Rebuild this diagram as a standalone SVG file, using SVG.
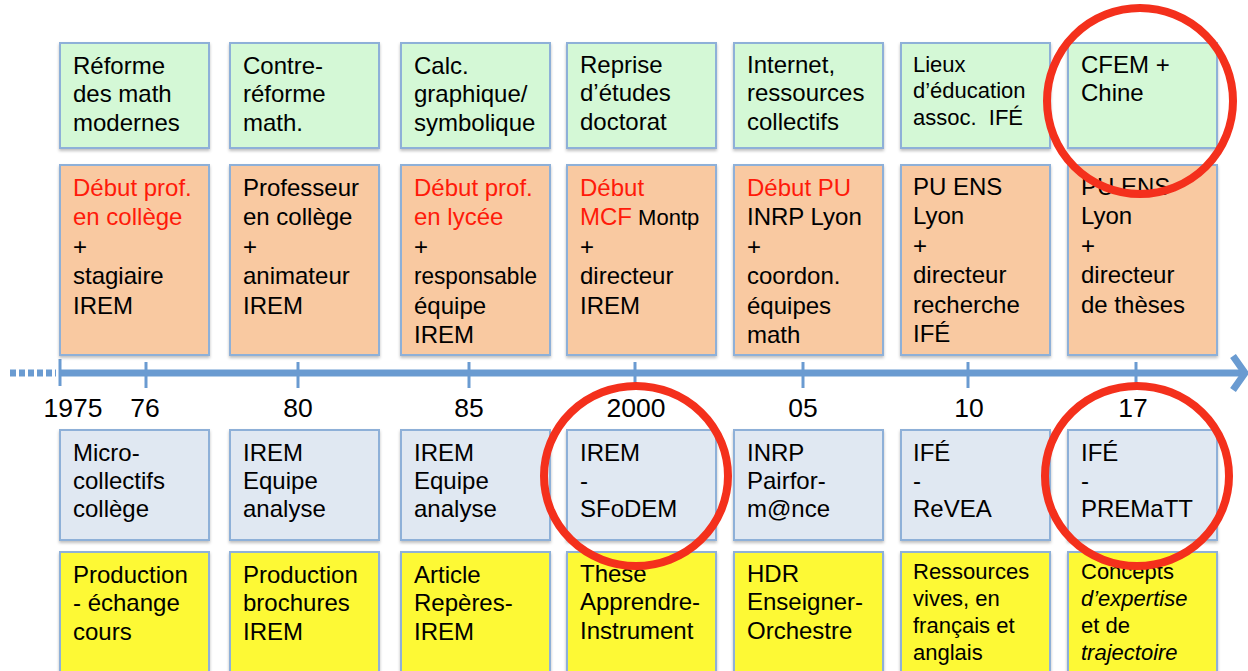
<svg xmlns="http://www.w3.org/2000/svg" width="1248" height="671" viewBox="0 0 1248 671">
<defs>
<filter id="sh" x="-10%" y="-10%" width="120%" height="120%">
<feDropShadow dx="0" dy="2" stdDeviation="1.5" flood-color="#000" flood-opacity="0.25"/>
</filter>
<style>
text{font-family:"Liberation Sans",Arial,Helvetica,sans-serif;font-size:24px;fill:#000}
.s{font-size:22px}
.m{font-size:22px}
.r{fill:#ff1a0a}
.i{font-style:italic}
.yr{font-size:26.5px;text-anchor:middle}
rect{stroke:#8eb0d8;stroke-width:2;filter:url(#sh)}
.g{fill:#d4f8d6}
.o{fill:#f9c9a1}
.b{fill:#e0e8f2}
.y{fill:#fdf934}
.ax{stroke:#6a9bd1;fill:none}
.c{fill:none;stroke:#f4301c;stroke-width:8}
</style>
</defs>
<rect width="1248" height="671" fill="#fff" style="stroke:none;filter:none"/>

<g id="connectors">
<line class="ax" x1="10" y1="373" x2="56" y2="373" stroke-width="7" stroke-dasharray="6 3"/>
<line class="ax" x1="60" y1="373" x2="1243" y2="373" stroke-width="7"/>
<polyline class="ax" points="1233,356 1245,373 1233,390" stroke-width="7" stroke-linejoin="miter"/>
<g class="ax" stroke-width="3">
<line x1="60" y1="359" x2="60" y2="386"/>
<line x1="146" y1="362" x2="146" y2="388"/>
<line x1="298" y1="362" x2="298" y2="388"/>
<line x1="469" y1="362" x2="469" y2="388"/>
<line x1="635" y1="362" x2="635" y2="388"/>
<line x1="803" y1="362" x2="803" y2="388"/>
<line x1="968" y1="362" x2="968" y2="388"/>
<line x1="1136" y1="362" x2="1136" y2="388"/>
</g>
</g>

<g id="years">
<text class="yr" x="73" y="417">1975</text>
<text class="yr" x="145" y="417">76</text>
<text class="yr" x="298" y="417">80</text>
<text class="yr" x="469" y="417">85</text>
<text class="yr" x="636" y="417">2000</text>
<text class="yr" x="803" y="417">05</text>
<text class="yr" x="969" y="417">10</text>
<text class="yr" x="1133" y="417">17</text>
</g>

<!-- Column 1 -->
<g id="c1-top"><rect class="g" x="60" y="43" width="149" height="105"/>
<text x="73" y="74">Réforme</text><text x="73" y="102">des math</text><text x="73" y="131">modernes</text></g>
<g id="c1-role"><rect class="o" x="60" y="165" width="149" height="190"/>
<text class="r" x="73" y="196">Début prof.</text><text class="r" x="73" y="225">en collège</text><text x="73" y="255">+</text><text x="73" y="284">stagiaire</text><text x="73" y="314">IREM</text></g>
<g id="c1-coll"><rect class="b" x="60" y="430" width="149" height="110"/>
<text x="73" y="461">Micro-</text><text x="73" y="489">collectifs</text><text x="73" y="517">collège</text></g>
<g id="c1-prod"><rect class="y" x="60" y="552" width="149" height="130"/>
<text x="73" y="583">Production</text><text x="73" y="611">- échange</text><text x="73" y="640">cours</text></g>

<!-- Column 2 -->
<g id="c2-top"><rect class="g" x="230" y="43" width="149" height="105"/>
<text x="243" y="74">Contre-</text><text x="243" y="102">réforme</text><text x="243" y="131">math.</text></g>
<g id="c2-role"><rect class="o" x="230" y="165" width="149" height="190"/>
<text x="243" y="196">Professeur</text><text x="243" y="225">en collège</text><text x="243" y="255">+</text><text x="243" y="284">animateur</text><text x="243" y="314">IREM</text></g>
<g id="c2-coll"><rect class="b" x="230" y="430" width="149" height="110"/>
<text x="243" y="461">IREM</text><text x="243" y="489">Equipe</text><text x="243" y="517">analyse</text></g>
<g id="c2-prod"><rect class="y" x="230" y="552" width="149" height="130"/>
<text x="243" y="583">Production</text><text x="243" y="611">brochures</text><text x="243" y="640">IREM</text></g>

<!-- Column 3 -->
<g id="c3-top"><rect class="g" x="401" y="43" width="149" height="105"/>
<text x="414" y="74">Calc.</text><text x="414" y="102">graphique/</text><text x="414" y="131">symbolique</text></g>
<g id="c3-role"><rect class="o" x="401" y="165" width="149" height="190"/>
<text class="r" x="414" y="196">Début prof.</text><text class="r" x="414" y="225">en lycée</text><text x="414" y="255">+</text><text x="414" y="284" textLength="123" lengthAdjust="spacingAndGlyphs">responsable</text><text x="414" y="314">équipe</text><text x="414" y="343">IREM</text></g>
<g id="c3-coll"><rect class="b" x="401" y="430" width="149" height="110"/>
<text x="414" y="461">IREM</text><text x="414" y="489">Equipe</text><text x="414" y="517">analyse</text></g>
<g id="c3-prod"><rect class="y" x="401" y="552" width="149" height="130"/>
<text x="414" y="583">Article</text><text x="414" y="611">Repères-</text><text x="414" y="640">IREM</text></g>

<!-- Column 4 -->
<g id="c4-top"><rect class="g" x="567" y="43" width="149" height="105"/>
<text x="580" y="73">Reprise</text><text x="580" y="101">d’études</text><text x="580" y="130">doctorat</text></g>
<g id="c4-role"><rect class="o" x="567" y="165" width="149" height="190"/>
<text class="r" x="580" y="196">Début</text><text x="580" y="225"><tspan class="r">MCF</tspan><tspan class="m"> Montp</tspan></text><text x="580" y="255">+</text><text x="580" y="284">directeur</text><text x="580" y="314">IREM</text></g>
<g id="c4-coll"><rect class="b" x="567" y="430" width="149" height="110"/>
<text x="580" y="461">IREM</text><text x="580" y="489">-</text><text x="580" y="517">SFoDEM</text></g>
<g id="c4-prod"><rect class="y" x="567" y="552" width="149" height="130"/>
<text x="580" y="582">These</text><text x="580" y="610">Apprendre-</text><text x="580" y="639">Instrument</text></g>

<!-- Column 5 -->
<g id="c5-top"><rect class="g" x="734" y="43" width="149" height="105"/>
<text x="747" y="73">Internet,</text><text x="747" y="101">ressources</text><text x="747" y="130">collectifs</text></g>
<g id="c5-role"><rect class="o" x="734" y="165" width="149" height="190"/>
<text class="r" x="747" y="196">Début PU</text><text x="747" y="225">INRP Lyon</text><text x="747" y="255">+</text><text x="747" y="284">coordon.</text><text x="747" y="314">équipes</text><text x="747" y="343">math</text></g>
<g id="c5-coll"><rect class="b" x="734" y="430" width="149" height="110"/>
<text x="747" y="461">INRP</text><text x="747" y="489">Pairfor-</text><text x="747" y="517">m@nce</text></g>
<g id="c5-prod"><rect class="y" x="734" y="552" width="149" height="130"/>
<text x="747" y="582">HDR</text><text x="747" y="610">Enseigner-</text><text x="747" y="639">Orchestre</text></g>

<!-- Column 6 -->
<g id="c6-top"><rect class="g" x="901" y="43" width="149" height="105"/>
<text class="s" x="913" y="72">Lieux</text><text class="s" x="913" y="98">d’éducation</text><text class="s" x="913" y="125">assoc.&#160; IFÉ</text></g>
<g id="c6-role"><rect class="o" x="901" y="165" width="149" height="190"/>
<text x="913" y="195">PU ENS</text><text x="913" y="224">Lyon</text><text x="913" y="254">+</text><text x="913" y="283">directeur</text><text x="913" y="313">recherche</text><text x="913" y="342">IFÉ</text></g>
<g id="c6-coll"><rect class="b" x="901" y="430" width="149" height="110"/>
<text x="913" y="461">IFÉ</text><text x="913" y="489">-</text><text x="913" y="517">ReVEA</text></g>
<g id="c6-prod"><rect class="y" x="901" y="552" width="149" height="130"/>
<text class="s" x="913" y="579">Ressources</text><text class="s" x="913" y="606">vives, en</text><text class="s" x="913" y="633">français et</text><text class="s" x="913" y="660">anglais</text></g>

<!-- Column 7 -->
<g id="c7-top"><rect class="g" x="1068" y="43" width="149" height="105"/>
<text x="1081" y="73">CFEM +</text><text x="1081" y="101">Chine</text></g>
<g id="c7-role"><rect class="o" x="1068" y="165" width="149" height="190"/>
<text x="1081" y="195">PU ENS</text><text x="1081" y="224">Lyon</text><text x="1081" y="254">+</text><text x="1081" y="283">directeur</text><text x="1081" y="313">de thèses</text></g>
<g id="c7-coll"><rect class="b" x="1068" y="430" width="149" height="110"/>
<text x="1081" y="461">IFÉ</text><text x="1081" y="489">-</text><text x="1081" y="517">PREMaTT</text></g>
<g id="c7-prod"><rect class="y" x="1068" y="552" width="149" height="130"/>
<text class="s" x="1081" y="579">Concepts</text><text class="s i" x="1081" y="606">d’expertise</text><text class="s" x="1081" y="633">et de</text><text class="s i" x="1081" y="660">trajectoire</text></g>

<g id="highlights">
<ellipse class="c" cx="1140" cy="101" rx="93" ry="93"/>
<ellipse class="c" cx="636" cy="476" rx="92" ry="90"/>
<ellipse class="c" cx="1137" cy="476" rx="92" ry="90"/>
</g>
</svg>
